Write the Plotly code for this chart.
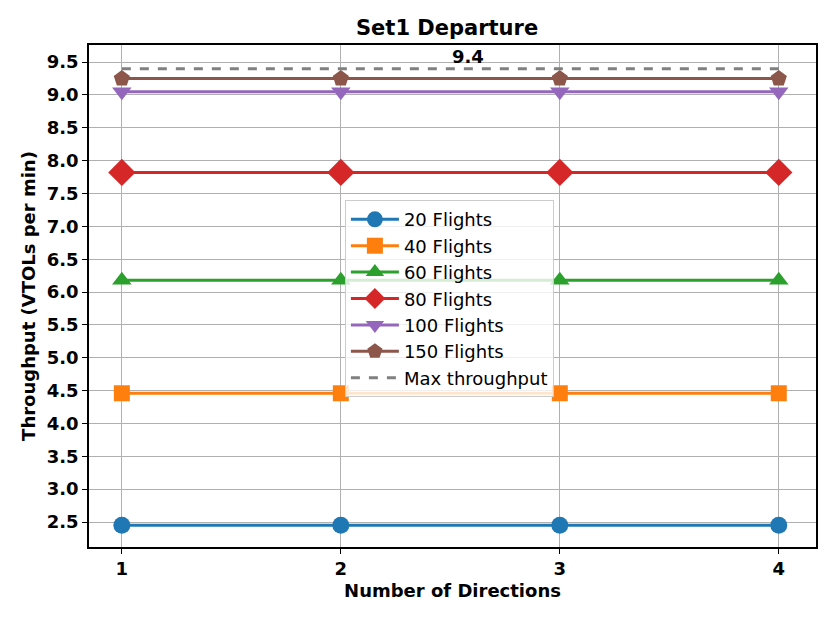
import plotly.graph_objects as go

directions = [1, 2, 3, 4]
series_names = ["20 Flights", "40 Flights", "60 Flights", "80 Flights", "100 Flights", "150 Flights"]
thr_20 = [2.45, 2.45, 2.45, 2.45]
thr_40 = [4.46, 4.46, 4.46, 4.46]
thr_60 = [6.18, 6.18, 6.18, 6.18]
thr_80 = [7.82, 7.82, 7.82, 7.82]
thr_100 = [9.05, 9.05, 9.05, 9.05]
thr_150 = [9.25, 9.25, 9.25, 9.25]
max_throughput = 9.4
y_ticks = [2.5, 3.0, 3.5, 4.0, 4.5, 5.0, 5.5, 6.0, 6.5, 7.0, 7.5, 8.0, 8.5, 9.0, 9.5]

colors = ["#1f77b4", "#ff7f0e", "#2ca02c", "#d62728", "#9467bd", "#8c564b"]
symbols = ["circle", "square", "triangle-up", "diamond", "triangle-down", "pentagon"]
sizes = [17, 16, 17, 21, 17, 17]

fig = go.Figure()
for name, vals, c, s, sz in zip(series_names, [thr_20, thr_40, thr_60, thr_80, thr_100, thr_150],
                                colors, symbols, sizes):
    fig.add_trace(go.Scatter(
        x=directions, y=vals, name=name, mode="lines+markers", legendgroup=name,
        line=dict(color=c, width=3),
        marker=dict(symbol=s, size=sz, color=c, line=dict(width=0)),
    ))

fig.add_trace(go.Scatter(
    x=directions, y=[max_throughput] * len(directions), name="Max throughput",
    mode="lines", legendgroup="max", line=dict(color="#808080", width=3, dash="dash"),
))

fig.add_annotation(
    x=(directions[0] + directions[-1]) / 2, y=max_throughput, text="<b>%.1f</b>" % max_throughput,
    showarrow=False, xanchor="left", yanchor="bottom", yshift=0,
    font=dict(family="DejaVu Sans", size=18, color="black"),
)

# page body has an 8px margin, so margins are offset to land the frame where the reference has it
fig.update_layout(
    width=830, height=623,
    paper_bgcolor="white", plot_bgcolor="white",
    margin=dict(l=81, r=22, t=37, b=84, autoexpand=False),
    font=dict(family="DejaVu Sans", color="black"),
    title=dict(text="<b>Set1 Departure</b>", x=0.529, xanchor="center", y=0.968, yanchor="middle",
               font=dict(size=21), automargin=False),
    legend=dict(
        x=0.352, y=0.691, xanchor="left", yanchor="top",
        bgcolor="rgba(255,255,255,0.8)", bordercolor="#cccccc", borderwidth=1,
        font=dict(size=18), tracegroupgap=0, itemwidth=48,
    ),
    showlegend=True,
)

fig.update_xaxes(
    range=[0.85, 4.17], tickvals=directions, ticktext=["<b>%d</b>" % d for d in directions],
    tickfont=dict(size=18), showgrid=True, gridcolor="#b0b0b0", gridwidth=1,
    showline=True, linecolor="black", linewidth=1.5, mirror=True, automargin=False,
    ticks="outside", ticklen=5, tickcolor="black", zeroline=False,
    title=dict(text="<b>Number of Directions</b>", font=dict(size=18), standoff=6),
)
fig.update_yaxes(
    range=[2.12, 9.76], tickvals=y_ticks, ticktext=["<b>%.1f</b>" % t for t in y_ticks],
    tickfont=dict(size=18), showgrid=True, gridcolor="#b0b0b0", gridwidth=1,
    showline=True, linecolor="black", linewidth=1.5, mirror=True, automargin=False,
    ticks="outside", ticklen=5, tickcolor="black", zeroline=False,
    title=dict(text="<b>Throughput (VTOLs per min)</b>", font=dict(size=18), standoff=6),
)

fig.write_html("out.html")
